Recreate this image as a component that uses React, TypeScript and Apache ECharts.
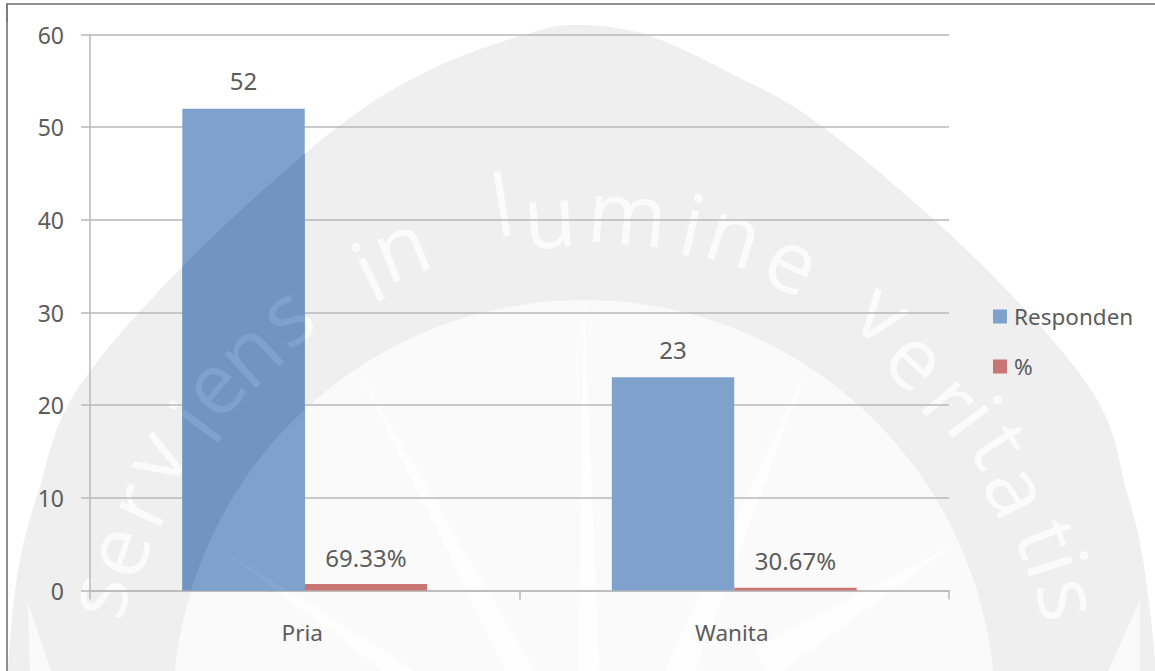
import React, { useEffect, useRef } from "react";
import * as echarts from "echarts";

const categories = ["Pria", "Wanita"];
const responden = [52, 23];
const persen = [0.6933, 0.3067];
const persenLabels = ["69.33%", "30.67%"];
const seriesNames = ["Responden", "%"];
const yTicks = { min: 0, max: 60, interval: 10 };

// Decorative background seal (not chart data)
const sealCenter = [584, 711];
const sealRadius = 411;
const sealKnots: number[][] = [
  [3, 760], [10, 640], [20, 560], [38, 493], [75, 393], [182, 267], [330, 133],
  [430, 70], [530, 33], [580, 25], [647, 35], [730, 73], [823, 127], [977, 260], [1093, 393],
  [1127, 493], [1143, 560], [1155, 660], [1160, 760],
];
const sealWedges: number[][][] = [
  [[28, 603], [30, 680], [54, 680]],
  [[1140, 600], [1140, 680], [1104, 680]],
];
const sealRays: number[][][] = [
  [[584, 300], [578, 680], [600, 680]],
  [[805, 373], [660, 680], [692, 680]],
  [[953, 545], [755, 648], [770, 680]],
  [[215, 545], [395, 680], [430, 680]],
  [[360, 373], [510, 680], [540, 680]],
];
const sealLetters: [string, number, number][] = [
  ["s", 103, 597], ["e", 123, 553], ["r", 143, 507], ["v", 160, 460], ["i", 193, 420], ["e", 217, 390],
  ["n", 253, 357], ["s", 290, 320], ["i", 367, 270], ["n", 403, 253], ["l", 502, 203], ["u", 550, 223],
  ["m", 627, 220], ["i", 693, 223], ["n", 733, 240], ["e", 790, 267], ["v", 880, 317], ["e", 913, 363],
  ["r", 947, 403], ["i", 977, 415], ["t", 1003, 443], ["a", 1013, 493], ["t", 1050, 537], ["i", 1060, 563],
  ["s", 1063, 600],
];

const TEXT = "#5c5c5c";
const FONT = "Noto Sans";
const GRID = "#b9b9b9";
const BLUE = "#7fa2cd";
const BLUE_DARK = "#7195c0";
const RED = "#c97573";

// Catmull-Rom outline of the decorative seal
function sealOutlinePoints() {
  const out: number[][] = [];
  const k = sealKnots;
  for (let i = 0; i < k.length - 1; i++) {
    const p0 = k[Math.max(i - 1, 0)];
    const p1 = k[i];
    const p2 = k[i + 1];
    const p3 = k[Math.min(i + 2, k.length - 1)];
    for (let s = 0; s < 16; s++) {
      const t = s / 16;
      const f = (a: number, b: number, c: number, d: number) =>
        0.5 * (2 * b + (c - a) * t + (2 * a - 5 * b + 4 * c - d) * t * t + (3 * b - a - 3 * c + d) * t * t * t);
      out.push([f(p0[0], p1[0], p2[0], p3[0]), f(p0[1], p1[1], p2[1], p3[1])]);
    }
  }
  out.push(k[k.length - 1]);
  return out;
}
const sealOutline = sealOutlinePoints();

function letterEls(fill: string, z?: number) {
  return sealLetters.map(([ch, x, y]) => {
    const theta = Math.atan2(x - sealCenter[0], sealCenter[1] - y);
    const lift = "ilt".includes(ch) ? 0 : 9;
    return {
      type: "text",
      x: x + Math.sin(theta) * lift,
      y: y - Math.cos(theta) * lift,
      rotation: -theta,
      silent: true,
      ...(z !== undefined ? { z } : {}),
      style: {
        text: ch,
        fill,
        font: `400 86px "Open Sans"`,
        align: "center",
        verticalAlign: "middle",
      },
    };
  });
}

function polyEl(points: number[][], fill: string, z?: number) {
  return {
    type: "polygon",
    silent: true,
    ...(z !== undefined ? { z } : {}),
    shape: { points },
    style: { fill },
  };
}

export default function App() {
  const ref = useRef<HTMLDivElement>(null);

  useEffect(() => {
    document.body.style.margin = "0";
    const chart = echarts.init(ref.current!, undefined, { renderer: "svg" });

    const renderOverlay = (_p: any, api: any) => {
      const band = api.size([1, 0])[0];
      const base = api.coord([0, 0]);
      const top = api.coord([0, api.value(1)]);
      const w = band * 0.285;
      return {
        type: "group",
        clipPath: { type: "rect", shape: { x: base[0] - w, y: top[1], width: w, height: base[1] - top[1] } },
        children: [
          polyEl(sealOutline, BLUE_DARK),
          {
            type: "circle",
            shape: { cx: sealCenter[0], cy: sealCenter[1], r: sealRadius },
            style: { fill: BLUE },
          },
          ...sealRays.map((r) => polyEl(r, "#84a6d0")),
          ...letterEls("#7fa2cd"),
        ],
      };
    };

    chart.setOption({
      animation: false,
      backgroundColor: "#ffffff",
      grid: { left: 90, right: 206, top: 34.5, bottom: 80.5 },
      legend: {
        orient: "vertical",
        left: 993,
        top: 305,
        padding: 0,
        itemWidth: 14,
        itemHeight: 14,
        itemGap: 27,
        data: seriesNames,
        icon: "rect",
        textStyle: { fontFamily: FONT, fontSize: 22.5, color: TEXT, padding: [0, 0, 0, 2] },
      },
      xAxis: {
        type: "category",
        data: categories,
        axisLine: { lineStyle: { color: GRID, width: 1.5 } },
        axisTick: { show: true, length: 9, lineStyle: { color: GRID, width: 1.5 } },
        axisLabel: { fontFamily: FONT, fontSize: 22.5, color: TEXT, margin: 30, padding: [0, 5, 0, 0] },
      },
      yAxis: {
        type: "value",
        ...yTicks,
        axisLine: { show: true, lineStyle: { color: GRID, width: 1.5 } },
        axisTick: { show: true, length: 9, lineStyle: { color: GRID, width: 1.5 } },
        axisLabel: { fontFamily: FONT, fontSize: 23, color: TEXT, margin: 26 },
        splitLine: { show: true, lineStyle: { color: GRID, width: 1.5 } },
      },
      series: [
        {
          name: seriesNames[0],
          type: "bar",
          data: responden,
          barGap: 0,
          barCategoryGap: "43%",
          itemStyle: { color: BLUE },
          label: { show: true, position: "top", distance: 16, fontFamily: FONT, fontSize: 24, color: TEXT },
        },
        {
          name: seriesNames[1],
          type: "bar",
          data: persen,
          itemStyle: { color: RED },
          label: {
            show: true,
            position: "top",
            distance: 15,
            fontFamily: FONT,
            fontSize: 24,
            color: TEXT,
            formatter: (p: any) => persenLabels[p.dataIndex],
          },
        },
        {
          name: "seal",
          type: "custom",
          z: 3,
          silent: true,
          clip: false,
          encode: { x: 0, y: 1 },
          data: [[0, responden[0]]],
          renderItem: renderOverlay,
        },
      ],
      graphic: {
        elements: [
          polyEl(sealOutline, "#efefef", -12),
          { type: "rect", silent: true, z: -12, shape: { x: 0, y: 0, width: 8, height: 671 }, style: { fill: "#ffffff" } },
          ...sealWedges.map((w) => polyEl(w, "#fafafa", -11)),
          {
            type: "circle",
            silent: true,
            z: -11,
            shape: { cx: sealCenter[0], cy: sealCenter[1], r: sealRadius },
            style: { fill: "#fafafa" },
          },
          ...sealRays.map((r) => polyEl(r, "#fefefe", -10)),
          ...letterEls("#fbfbfb", -9),
          { type: "rect", silent: true, z: 20, shape: { x: 7, y: 4, width: 1150, height: 700 }, style: { fill: "none", stroke: "#8f8f8f", lineWidth: 2 } },
          { type: "rect", silent: true, z: 21, shape: { x: 6, y: 4, width: 2, height: 18 }, style: { fill: "#7d7d7d" } },
        ],
      },
    });
    return () => chart.dispose();
  }, []);

  return <div ref={ref} style={{ width: 1155, height: 671 }} />;
}
